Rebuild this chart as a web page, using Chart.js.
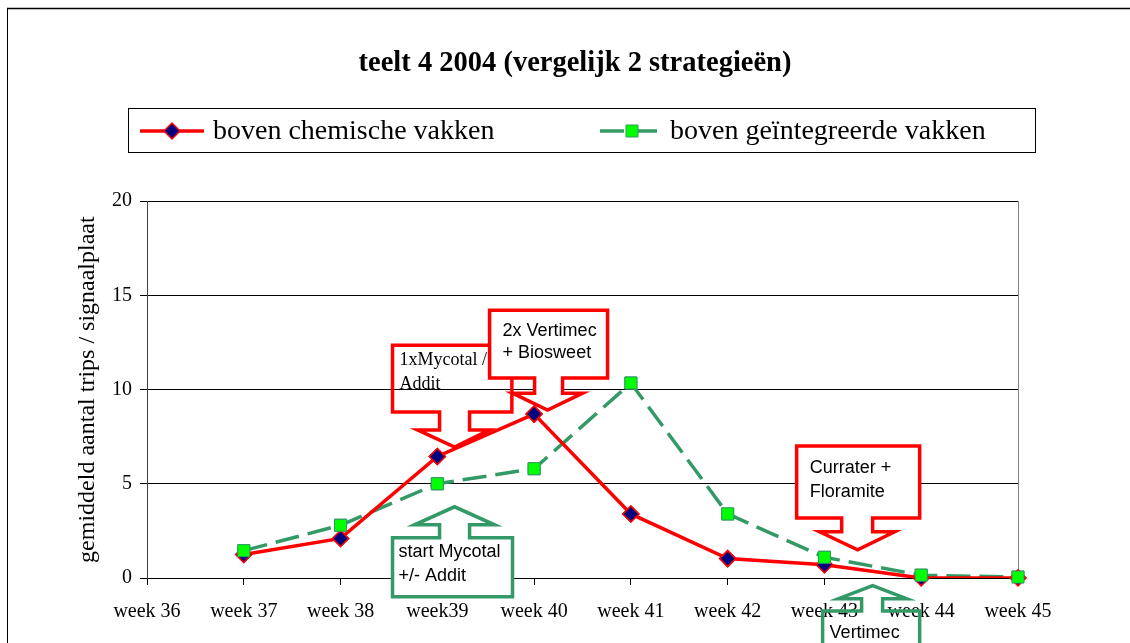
<!DOCTYPE html>
<html><head><meta charset="utf-8">
<script src="https://cdn.jsdelivr.net/npm/chart.js@4.4.1/dist/chart.umd.min.js"></script>
<style>html,body{margin:0;padding:0;background:#fff;overflow:hidden}canvas{display:block}</style>
</head><body>
<canvas id="c" width="1130" height="643"></canvas>
<script>
// ---- data ----
const weeks = ['week 36','week 37','week 38','week39','week 40','week 41','week 42','week 43','week 44','week 45'];
const chemisch = [null, 1.25, 2.1, 6.45, 8.7, 3.4, 1.03, 0.7, 0.0, 0.0];
const geintegreerd = [null, 1.45, 2.8, 5.0, 5.8, 10.35, 3.4, 1.1, 0.15, 0.05];
const yTicks = [0, 5, 10, 15, 20];
const seriesNames = ['boven chemische vakken', 'boven geïntegreerde vakken'];
const titleText = 'teelt 4 2004 (vergelijk 2 strategieën)';
const yTitle = 'gemiddeld aantal trips / signaalplaat';

// ---- annotation callouts (anchored in data units: category index / y value) ----
const callouts = [
  {dir:'down', color:'#FF0000', fill:false, width:3.5, font:'18px "Liberation Serif"', lines:['1xMycotal /','Addit'], pad:[7,20], lh:24,
   box:[2.537,3.77,12.36,8.81], stem:[3.023,3.333], neck:7.86, head:[2.796,3.54], tip:[3.178,6.95]},
  {dir:'down', color:'#FF0000', fill:true, width:3.5, font:'18px "Liberation Sans"', lines:['2x Vertimec','+ Biosweet'], pad:[13,26], lh:22,
   box:[3.54,4.759,14.21,10.61], stem:[4.005,4.294], neck:9.81, head:[3.777,4.501], tip:[4.139,8.91]},
  {dir:'up', color:'#339966', fill:true, width:3.5, font:'18px "Liberation Sans"', lines:['start Mycotal','+/- Addit'], pad:[6,19], lh:24,
   box:[2.537,3.777,2.13,-0.99], stem:[3.023,3.333], neck:2.82, head:[2.765,3.591], tip:[3.178,3.78]},
  {dir:'down', color:'#FF0000', fill:true, width:3.5, font:'18px "Liberation Sans"', lines:['Currater +','Floramite'], pad:[13,27], lh:24,
   box:[6.713,7.984,7.01,3.19], stem:[7.178,7.498], neck:2.45, head:[6.95,7.725], tip:[7.343,1.5]},
  {dir:'up', color:'#339966', fill:false, width:3.5, font:'18px "Liberation Sans"', lines:['Vertimec'], pad:[7,27], lh:24,
   box:[6.981,7.984,-1.75,-6.45], stem:[7.384,7.601], neck:-1.1, head:[7.146,7.849], tip:[7.498,-0.41]}
];

function drawCallout(chart, c) {
  const ctx = chart.ctx, xs = chart.scales.x, ys = chart.scales.y;
  const X = v => xs.getPixelForValue(v), Y = v => ys.getPixelForValue(v);
  const bx0 = X(c.box[0]), bx1 = X(c.box[1]), byT = Y(c.box[2]), byB = Y(c.box[3]);
  const sx0 = X(c.stem[0]), sx1 = X(c.stem[1]), ny = Y(c.neck);
  const hx0 = X(c.head[0]), hx1 = X(c.head[1]), tx = X(c.tip[0]), ty = Y(c.tip[1]);
  ctx.save();
  ctx.beginPath();
  if (c.dir === 'down') {
    ctx.moveTo(bx0, byT); ctx.lineTo(bx1, byT); ctx.lineTo(bx1, byB);
    ctx.lineTo(sx1, byB); ctx.lineTo(sx1, ny); ctx.lineTo(hx1, ny); ctx.lineTo(tx, ty);
    ctx.lineTo(hx0, ny); ctx.lineTo(sx0, ny); ctx.lineTo(sx0, byB); ctx.lineTo(bx0, byB);
  } else {
    ctx.moveTo(bx0, byB); ctx.lineTo(bx0, byT); ctx.lineTo(sx0, byT); ctx.lineTo(sx0, ny);
    ctx.lineTo(hx0, ny); ctx.lineTo(tx, ty); ctx.lineTo(hx1, ny); ctx.lineTo(sx1, ny);
    ctx.lineTo(sx1, byT); ctx.lineTo(bx1, byT); ctx.lineTo(bx1, byB);
  }
  ctx.closePath();
  if (c.fill) { ctx.fillStyle = '#fff'; ctx.fill(); }
  ctx.lineJoin = 'miter'; ctx.strokeStyle = c.color; ctx.lineWidth = c.width; ctx.stroke();
  ctx.fillStyle = '#000'; ctx.font = c.font; ctx.textBaseline = 'alphabetic'; ctx.textAlign = 'left';
  c.lines.forEach((t, i) => ctx.fillText(t, bx0 + c.pad[0], byT + c.pad[1] + i * c.lh));
  ctx.restore();
}

const framePlugin = {
  id: 'frame',
  beforeDraw(chart) {
    const ctx = chart.ctx;
    ctx.save();
    ctx.fillStyle = '#fff'; ctx.fillRect(0, 0, chart.width, chart.height);
    ctx.strokeStyle = '#000'; ctx.lineWidth = 1;
    ctx.strokeRect(7.5, 8.5, 1300, 800);
    ctx.lineWidth = 1.5;
    ctx.beginPath(); ctx.moveTo(7, 8.5); ctx.lineTo(chart.width, 8.5); ctx.stroke();
    ctx.restore();
  },
  beforeDatasetsDraw(chart) {
    const ctx = chart.ctx, a = chart.chartArea;
    ctx.save();
    ctx.strokeStyle = '#808080'; ctx.lineWidth = 1;
    ctx.beginPath(); ctx.moveTo(Math.round(a.right) + 0.5, a.top); ctx.lineTo(Math.round(a.right) + 0.5, a.bottom); ctx.stroke();
    ctx.restore();
  },
  afterDatasetsDraw(chart) {
    // markers on top of all lines (as in the original)
    chart.data.datasets.forEach((ds, i) => {
      const meta = chart.getDatasetMeta(i);
      meta.data.forEach(pt => { if (!pt.skip) pt.draw(chart.ctx); });
    });
    callouts.forEach(c => drawCallout(chart, c));
  },
  afterDraw(chart) {
    const ctx = chart.ctx;
    ctx.save();
    // legend box
    ctx.strokeStyle = '#000'; ctx.lineWidth = 1;
    ctx.strokeRect(128.5, 108.5, 907, 44);
    const starts = [140, 600];
    const textGap = [9, 6];
    const cy = 131;
    chart.data.datasets.forEach((ds, i) => {
      const x0 = starts[i], len = 64;
      ctx.save();
      ctx.strokeStyle = ds.borderColor; ctx.lineWidth = ds.borderWidth;
      ctx.setLineDash(ds.borderDash || []);
      ctx.beginPath(); ctx.moveTo(x0, cy); ctx.lineTo(x0 + len, cy); ctx.stroke();
      ctx.restore();
      ctx.save();
      ctx.fillStyle = ds.pointBackgroundColor; ctx.strokeStyle = ds.pointBorderColor; ctx.lineWidth = ds.pointBorderWidth;
      Chart.helpers.drawPoint(ctx, {pointStyle: ds.pointStyle, radius: ds.pointRadius, borderWidth: ds.pointBorderWidth, rotation: 0}, x0 + len / 2, cy);
      ctx.restore();
      ctx.fillStyle = '#000'; ctx.font = '28px "Liberation Serif"'; ctx.textBaseline = 'middle'; ctx.textAlign = 'left';
      ctx.fillText(ds.label, x0 + len + textGap[i], cy + 1);
    });
    ctx.restore();
  }
};

new Chart(document.getElementById('c'), {
  type: 'line',
  data: {
    labels: weeks,
    datasets: [
      {label: seriesNames[0], data: chemisch, borderColor: '#FF0000', borderWidth: 3.5,
       pointStyle: 'rectRot', pointRadius: 8, pointBackgroundColor: '#000080', pointBorderColor: '#FF0000', pointBorderWidth: 1.5,
       tension: 0, spanGaps: false},
      {label: seriesNames[1], data: geintegreerd, borderColor: '#339966', borderWidth: 3.5, borderDash: [24, 9],
       pointStyle: 'rect', pointRadius: 8.5, pointBackgroundColor: '#00FF00', pointBorderColor: '#339966', pointBorderWidth: 1,
       tension: 0, spanGaps: false}
    ]
  },
  options: {
    responsive: false, animation: false, devicePixelRatio: 1,
    layout: {padding: {left: 20, right: 0, top: 0, bottom: 0}},
    plugins: {
      legend: {display: false},
      tooltip: {enabled: false},
      title: {display: true, text: titleText, color: '#000',
              font: {family: 'Liberation Serif', size: 28.5, weight: 'bold'}, padding: {top: 47, bottom: 120}}
    },
    scales: {
      x: {
        offset: false,
        grid: {drawOnChartArea: false, drawTicks: true, tickLength: 7, color: '#000'},
        border: {display: true, color: '#000', width: 1},
        ticks: {color: '#000', font: {family: 'Liberation Serif', size: 20}, padding: 15, maxRotation: 0, autoSkip: false},
        afterFit(s) { s.height = 65; }
      },
      y: {
        min: 0, max: 20,
        afterBuildTicks(s) { s.ticks = yTicks.map(v => ({value: v})); },
        grid: {color: '#000', lineWidth: 1, drawTicks: true, tickLength: 7},
        border: {display: true, color: '#404040', width: 1},
        ticks: {color: '#000', font: {family: 'Liberation Serif', size: 20}, padding: 8},
        title: {display: true, text: yTitle, color: '#000', font: {family: 'Liberation Serif', size: 24}, padding: {top: 53, bottom: 0}},
        afterFit(s) { s.width = 127; }
      },
      yRight: {
        position: 'right', display: true, min: 0, max: 20,
        grid: {display: false}, border: {display: false}, ticks: {display: false},
        afterFit(s) { s.width = 112; }
      }
    }
  },
  plugins: [framePlugin]
});
</script>
</body></html>
